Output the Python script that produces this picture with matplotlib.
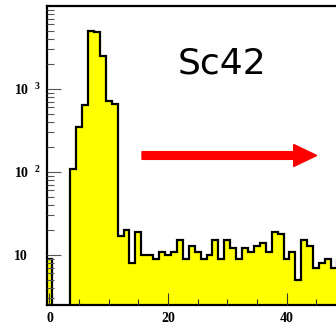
"""Sc42 spectrum, log scale, ROOT style."""
import numpy as np
import matplotlib

matplotlib.use("Agg")
from matplotlib import pyplot as plt
from matplotlib.patches import FancyArrow
from matplotlib.ticker import FixedLocator, FixedFormatter, MultipleLocator, NullFormatter

# bin edges and counts
bin_edges = np.arange(-0.5, 50.5, 1.0)
counts = [
    9, 0, 0, 0, 108, 348, 640, 5040, 4800, 2520,
    710, 660, 17, 20, 8, 19, 10, 10, 9, 11,
    10, 11, 15, 9, 13, 11, 9, 10, 15, 9,
    15, 12, 9, 12, 11, 13, 14, 11, 19, 18,
    9, 11, 5, 15, 13, 7, 8, 9, 7, 9,
]
ytick_vals = [10, 100, 1000]
ytick_labels = ["10", r"10$^{\;\;\;2}$", r"10$^{\;\;\;3}$"]
xtick_vals = [0, 20, 40]
label_text = "Sc42"

plt.rcParams["mathtext.fontset"] = "custom"
plt.rcParams["mathtext.rm"] = "Liberation Serif:bold"
plt.rcParams["mathtext.it"] = "Liberation Serif:bold"
plt.rcParams["mathtext.bf"] = "Liberation Serif:bold"

W, H = 336, 327
fig = plt.figure(figsize=(W / 100, H / 100), dpi=100)
ax = fig.add_axes([46.5 / W, 22 / H, 296.3 / W, (305 - 6) / H])

counts = np.asarray(counts, dtype=float)
ax.stairs(counts, bin_edges, fill=True, baseline=1.0, color="#ffff00", zorder=1)
ax.stairs(np.where(counts > 0, counts, 1.0), bin_edges, baseline=None,
          color="black", linewidth=1.6, zorder=2)

ax.set_yscale("log")
ax.set_xlim(-0.5, 49.5)
ax.set_ylim(2.5, 1e4)
ax.set_axisbelow(False)

ax.xaxis.set_major_locator(FixedLocator(xtick_vals))
ax.xaxis.set_minor_locator(MultipleLocator(5))
ax.yaxis.set_major_locator(FixedLocator(ytick_vals))
ax.yaxis.set_major_formatter(FixedFormatter(ytick_labels))
minor_y = [m * 10 ** e for e in range(0, 4) for m in range(2, 10)]
ax.yaxis.set_minor_locator(FixedLocator(minor_y))
ax.yaxis.set_minor_formatter(NullFormatter())

ax.tick_params(axis="y", which="major", direction="in", length=10, width=0.8,
               color="#555555", pad=23.4, labelsize=10)
ax.tick_params(axis="y", which="minor", direction="in", length=5, width=0.8,
               color="#555555")
ax.tick_params(axis="x", which="major", direction="in", length=8.6, width=0.8,
               color="#333333", pad=5, labelsize=10)
ax.tick_params(axis="x", which="minor", direction="in", length=4, width=0.8,
               color="#333333")
for lab in ax.get_yticklabels():
    lab.set_horizontalalignment("left")
    lab.set_verticalalignment("center_baseline")
for lab in ax.get_yticklabels() + ax.get_xticklabels():
    lab.set_fontfamily("Liberation Serif")
    lab.set_fontweight("bold")

for side in ["left", "bottom", "top"]:
    ax.spines[side].set_linewidth(1.6)
ax.spines["right"].set_visible(False)

fig.text(178 / W, 1 - 73.3 / H, label_text, fontsize=26, family="DejaVu Sans",
         va="baseline", ha="left")

fig.add_artist(FancyArrow(
    142 / W, 1 - 155.5 / H, (316.7 - 142) / W, 0,
    width=7.7 / H, head_width=22 / H, head_length=23 / W,
    length_includes_head=True, color="#ff0000", transform=fig.transFigure,
))

fig.savefig("out.png", dpi=100)
